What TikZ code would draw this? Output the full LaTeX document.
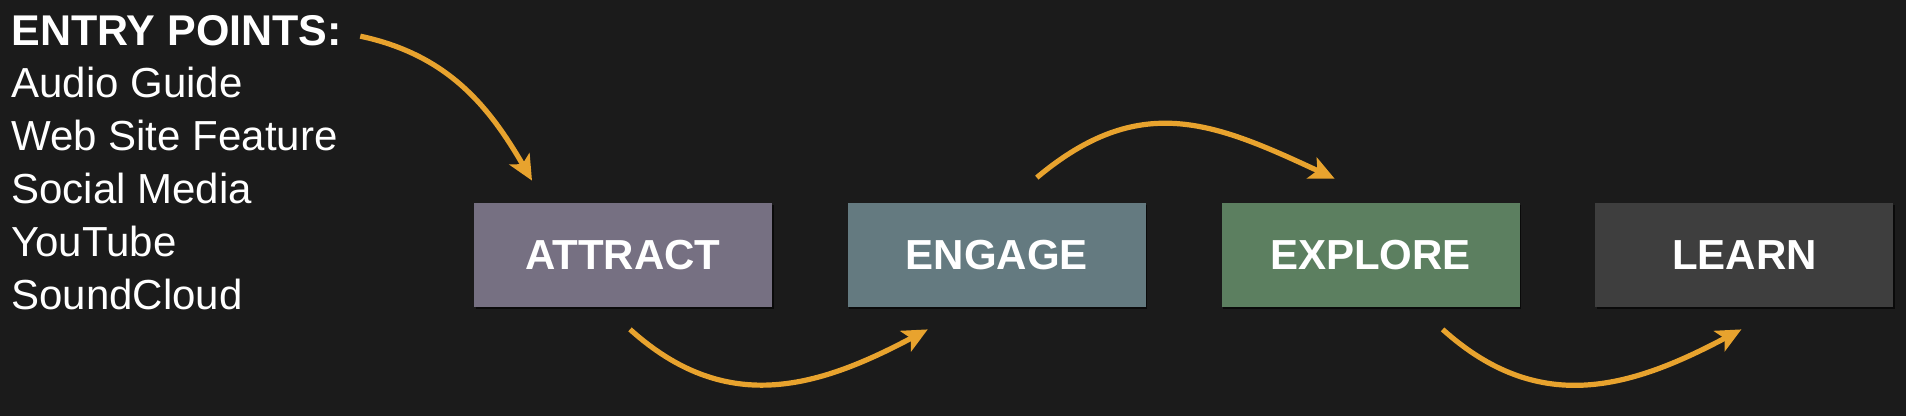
\documentclass[tikz,border=0pt]{standalone}
\usepackage{fontspec}
\setmainfont{Liberation Sans}
\usetikzlibrary{arrows.meta,positioning,calc,shadows}
\definecolor{bgdark}{HTML}{1B1B1B}
\definecolor{attractc}{HTML}{767082}
\definecolor{engagec}{HTML}{647A80}
\definecolor{explorec}{HTML}{5C7F60}
\definecolor{learnc}{HTML}{3E3E3E}
\definecolor{arrowgold}{HTML}{E8A32E}
\begin{document}
\begin{tikzpicture}[x=0.5pt,y=0.5pt,
  stage/.style={minimum width=149pt,minimum height=52pt,inner sep=0pt,text=white,
    font=\fontsize{21}{24}\selectfont\bfseries,
    drop shadow={shadow xshift=0.8pt,shadow yshift=-0.8pt,fill=black,opacity=0.6}},
  flow/.style={draw=arrowgold,line width=2.6pt,-{Stealth[length=12.5pt,width=11.5pt,inset=3pt]}},
  entry/.style={text=white,anchor=base west,inner sep=0pt,font=\fontsize{21}{26}\selectfont}]

\fill[bgdark] (0,0) rectangle (1906,416);
\useasboundingbox (0,0) rectangle (1906,416);

% entry points
\node[entry,font=\fontsize{21.5}{26}\selectfont\bfseries] (head) at (11,370) {ENTRY POINTS:};
\node[entry] (audio) at (11,318) {Audio Guide};
\node[entry] (web) at (11,265) {Web Site Feature};
\node[entry] (social) at (11,212) {Social Media};
\node[entry] (youtube) at (11,159) {YouTube};
\node[entry] (sound) at (11,106) {SoundCloud};

% stages
\node[stage,fill=attractc] (attract) at (623,161) {ATTRACT};
\node[stage,fill=engagec,right=37.5pt of attract] (engage) {ENGAGE};
\node[stage,fill=explorec,right=37.5pt of engage] (explore) {EXPLORE};
\node[stage,fill=learnc,right=37.5pt of explore] (learn) {LEARN};

% arrow ends
\coordinate (e0) at ($(head.east)+(18,-5)$);
\coordinate (e1) at ($(attract.north)+(-91,22)$);
\coordinate (a0) at ($(attract.south)+(7,-22)$);
\coordinate (a1) at ($(engage.south)+(-69,-22)$);
\coordinate (g0) at ($(engage.north)+(40,25)$);
\coordinate (g1) at ($(explore.north)+(-36,24)$);
\coordinate (x0) at ($(explore.south)+(72,-22)$);
\coordinate (x1) at ($(learn.south)+(-3,-22)$);

\draw[flow] (e0) to[out=-12,in=120] (e1);
\draw[flow] (a0) to[out=-42,in=208,looseness=1.1] (a1);
\draw[flow] (g0) to[out=40,in=155,looseness=1.15] (g1);
\draw[flow] (x0) to[out=-42,in=208,looseness=1.1] (x1);
\end{tikzpicture}
\end{document}
